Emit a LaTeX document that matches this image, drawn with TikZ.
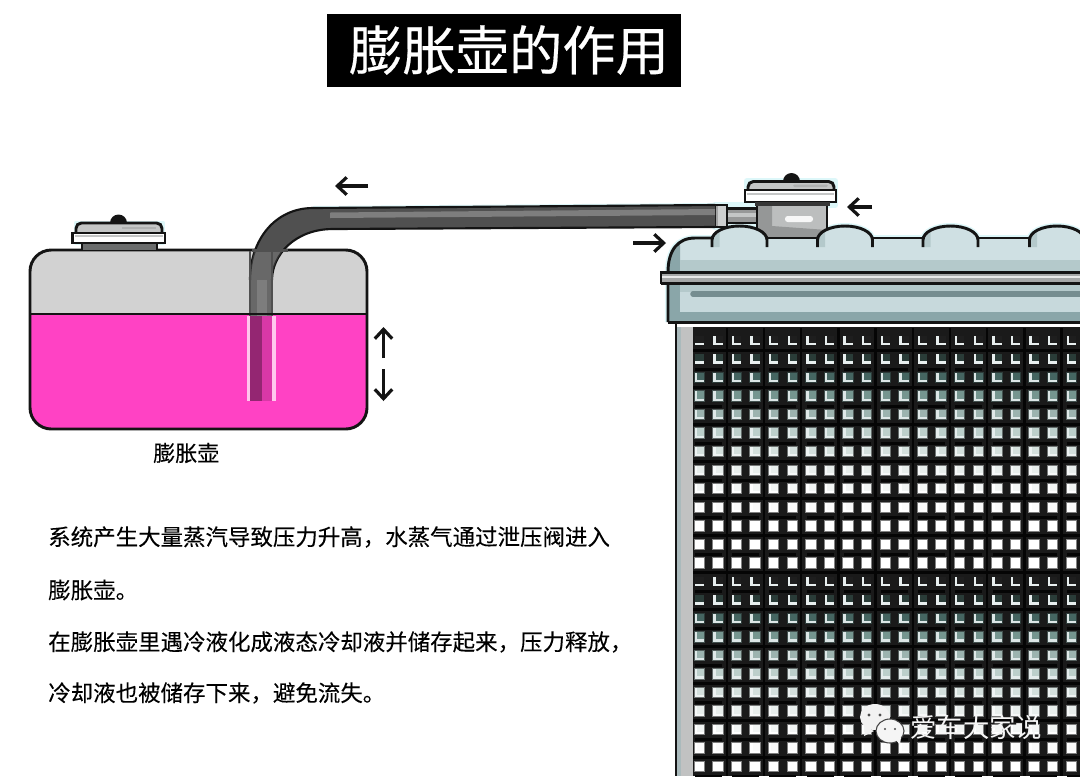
\documentclass[tikz,border=0pt]{standalone}
\usepackage{fontspec}
\setmainfont{Noto Sans CJK SC}
\newfontfamily\titlefont[FakeBold=0.35]{Noto Sans CJK SC}
\newfontfamily\bodyfont[FakeBold=0.15]{Noto Sans CJK SC}
\newcommand{\pxfont}[1]{\fontsize{#1}{#1}\selectfont}
\usetikzlibrary{arrows.meta}
\definecolor{glow}{HTML}{DDF7F9}
\definecolor{tankgray}{HTML}{D2D2D2}
\definecolor{liquid}{HTML}{FF42C4}
\definecolor{inkk}{HTML}{141414}
\definecolor{capgray}{HTML}{C4C6C6}
\definecolor{capdark}{HTML}{6A6C6C}
\definecolor{rlight}{HTML}{CFE0E3}
\definecolor{rmid}{HTML}{B4C9CB}
\definecolor{rdark}{HTML}{8AA6A9}
\definecolor{barg}{HTML}{A6A8A8}
\definecolor{corebg}{HTML}{1A1A1A}
\definecolor{coreline}{HTML}{050505}
\definecolor{pipebody}{HTML}{505050}
\definecolor{pipeband}{HTML}{7E7E7E}
\tikzset{
  ink/.style={draw=inkk,line width=2.2pt},
  thin ink/.style={draw=inkk,line width=1.6pt},
  halo/.style={draw=glow,line width=4.5pt,line join=round},
  flow/.style={draw=inkk,line width=2.4pt,-{Straight Barb[length=7pt,width=13pt,line width=2.4pt]}},
  label/.style={inner sep=0pt,anchor=west,text=black},
}
\def\pipepath{(715,205) -- (313,208) .. controls (275,208) and (250,240) .. (250,280) -- (250,316) -- (272,316) -- (272,280) .. controls (272,255) and (295,229) .. (333,229) -- (715,227) -- cycle}
\def\bumppath#1{(#1-27.5,247) -- (#1-27.5,240) .. controls (#1-27.5,232) and (#1-15,226) .. (#1,226) .. controls (#1+15,226) and (#1+27.5,232) .. (#1+27.5,240) -- (#1+27.5,247)}
\begin{document}
\begin{tikzpicture}[x=0.75pt,y=-0.75pt]
\useasboundingbox (0,0) rectangle (1080,776);
\clip (0,0) rectangle (1080,776);
\fill[white] (0,0) rectangle (1080,776);

% title
\fill[black] (327,14) rectangle (681,87);
\node[inner sep=0pt,text=white] (title) at (509,50) {\titlefont\pxfont{40}膨胀壶的作用};

% ---------- halos
\draw[halo] (668,322) -- (668,272) .. controls (668,250) and (678,238) .. (695,238) -- (1080,238);
\draw[halo] (747,181) rectangle (835,205);
\draw[halo] (715,205) rectangle (757,227);
\foreach \cx in {845,950.5,1057}{\draw[halo] \bumppath{\cx};}
\draw[halo,line width=3.5pt] (76,223) rectangle (163,243);
\draw[glow,line width=3pt] (715,205) -- (313,208);

% ---------- radiator side and core
\fill[barg!70!white] (676,322) rectangle (694,776);
\fill[rmid!80!gray] (676,322) rectangle (681,776);
\draw[thin ink] (676,322) -- (676,776);
\fill[corebg] (693,327) rectangle (1080,776);
\fill[white] (677,324) rectangle (1080,326.5);

% core bars
\foreach \i in {0,...,10}{\fill[coreline] ({725.5+(\i*37.2)},328) rectangle ({728+(\i*37.2)},776);}
\foreach \r in {0,...,11}{
  \fill[coreline] (693,{348.5+\r*37}) rectangle (1080,{352+\r*37});
  \foreach \i in {0,...,10}{\fill[coreline] ({695+(\i*37.2)},{368+\r*37}) rectangle ({722+(\i*37.2)},{370.5+\r*37});}
}

% core windows: a 13-row period, dark and hollow at the top of each panel, white at the bottom
\foreach \p/\last in {0/12,1/10}{
 \foreach \k/\cola/\colb in {
   0/1E1E1E/E8EFEF,1/2A3C38/E8EFEF,2/456561/DCE6E6,3/75958F/DCE6E6,
   4/9CB3AF/DFE8E8,5/BCCFCB/E4ECEC,6/D4E0DD/EEF3F3,7/E8EEEC/F6F8F8,
   8/F2F5F4/FFFFFF,9/FAFAFA/FFFFFF,10/FFFFFF/FFFFFF,11/FFFFFF/FFFFFF,12/FFFFFF/FFFFFF}{
  \ifnum\k>\last\relax\else
  \pgfmathsetmacro{\ypos}{340.5+18.53*(\k+13*\p)}
  \definecolor{wfill}{HTML}{\cola}\definecolor{wedge}{HTML}{\colb}
  \foreach \c in {0,...,20}{
   \pgfmathsetmacro{\xpos}{699.3+18.6*\c}
   \ifnum\k>1 \fill[wfill!45!corebg] (\xpos-5.7,\ypos-5.7) rectangle (\xpos+5.7,\ypos+5.7);\fi
   \fill[wfill] (\xpos-4.7,\ypos-4.7) rectangle (\xpos+4.7,\ypos+4.7);
   \ifnum\c=0 \ifnum\k<2 \else \fill[wedge] (\xpos-4.7,\ypos-4.7) rectangle (\xpos-2.4,\ypos+4.7);\fi
   \else \fill[wedge] (\xpos-4.7,\ypos-4.7) rectangle (\xpos-2.4,\ypos+4.7);\fi
   \fill[wedge] (\xpos-4.7,\ypos+2.4) rectangle (\xpos+4.7,\ypos+4.7);
  }
  \fi
 }
}

% ---------- radiator top tank
\fill[rlight] (668,322) -- (668,272) .. controls (668,250) and (678,238) .. (695,238) -- (1080,238) -- (1080,322) -- cycle;
\fill[rdark] (668,322) -- (668,272) .. controls (668,258) and (672,248) .. (680,243) -- (680,322) -- cycle;
\fill[rmid] (680,260) rectangle (1080,272);
\fill[rmid] (680,284) rectangle (1080,292);
\fill[rlight!70!rmid] (680,292) rectangle (1080,312);
\fill[rdark] (668,312) rectangle (1080,322);
\draw[rdark!85!black,line width=4.2pt,line cap=round] (693,294) -- (1080,294);
% neck
\fill[barg!75!white] (757,200) rectangle (827,238);
\fill[barg!90!black] (757,200) -- (772,200) -- (772,226) -- (827,230) -- (827,238) -- (757,238) -- cycle;
\fill[white!94!gray,rounded corners=2pt] (785,216) rectangle (813,222);
\draw[ink] (757,205) -- (757,238);
\draw[ink] (827,205) -- (827,238);
% bumps
\foreach \cx in {739.5,845,950.5,1057}{
  \fill[rlight] \bumppath{\cx} -- cycle;
  \fill[rmid] (\cx-27,247) -- (\cx-27,238) -- (\cx-20,232) -- (\cx-20,247) -- cycle;
  \draw[ink] \bumppath{\cx};
}
\draw[ink] (668,322) -- (668,272) .. controls (668,250) and (678,238) .. (695,238) -- (712,238);
\draw[ink] (767,238) -- (818,238);
\draw[ink] (872.5,238) -- (923,238);
\draw[ink] (978,238) -- (1029.5,238);
\draw[ink] (668,322.5) -- (1080,322.5);
% bar
\fill[barg] (661,272) rectangle (1080,283);
\fill[white!75!barg] (661,276) rectangle (1080,278);
\draw[ink] (661,283.5) -- (661,272.5) -- (1080,272.5);
\draw[ink] (661,283.5) -- (1080,283.5);

% ---------- radiator cap
\fill[inkk] (791.5,181.5) circle[radius=8.5];
\fill[capgray,rounded corners=4pt] (748,195) -- (748,181) -- (834,181) -- (834,195) -- cycle;
\fill[capgray!70!gray,rounded corners=1pt] (793,184.5) rectangle (828,187);
\draw[ink,rounded corners=4pt] (748,195) -- (748,181.5) -- (834,181.5) -- (834,195);
\fill[white] (745,190) rectangle (836,202);
\fill[capgray] (747,192.5) rectangle (834,194.5);
\draw[ink] (745,190) rectangle (836,202);
\fill[inkk!85!white] (755,202) rectangle (830,206);
% spigot
\fill[capdark!70!white] (727,209) rectangle (757,223);
\fill[capgray] (727,213) rectangle (757,217);
\draw[thin ink] (727,208.5) rectangle (757,223);
\fill[capgray!85!white] (715,205) rectangle (727,227);
\fill[capgray!50!gray] (715,205) rectangle (718,227);
\draw[thin ink] (715,205) rectangle (727,227);

% ---------- tank
\begin{scope}
\clip[rounded corners=16pt] (30,250) rectangle (367,429);
\fill[tankgray] (30,250) rectangle (367,314);
\fill[liquid] (30,314) rectangle (367,429);
\end{scope}
\draw[ink,rounded corners=16pt] (30,250) rectangle (367,429);

% tank cap
\fill[inkk] (118.5,223) circle[radius=8.5];
\fill[capdark] (82,242) rectangle (157,250);
\fill[capgray,rounded corners=4pt] (76,236) -- (76,223) -- (162,223) -- (162,236) -- cycle;
\fill[capgray!70!gray] (122,226.5) rectangle (156,228.5);
\draw[ink,rounded corners=4pt] (76,236) -- (76,223) -- (162,223) -- (162,236);
\fill[white] (72.5,233) rectangle (165,243);
\fill[capgray] (75,235) rectangle (163,237);
\draw[ink] (72.5,233) rectangle (165,243);
\draw[thin ink] (82,243) -- (82,250);
\draw[thin ink] (157,243) -- (157,250);

% ---------- pipe
\fill[white!70!liquid] (247,316) rectangle (275.5,401);
\fill[pipebody] \pipepath;
\fill[pipeband] (330,212.5) -- (715,209) -- (715,215) -- (330,218) -- cycle;
\draw[thin ink] (715,205) -- (313,208) .. controls (275,208) and (250,240) .. (250,280);
\draw[thin ink] (272,280) .. controls (272,255) and (295,229) .. (333,229) -- (715,227);
\begin{scope}
\clip (200,251) rectangle (300,316);
\fill[white,opacity=.14] \pipepath;
\draw[pipebody,line width=1.8pt] (250,250) -- (250,316) (272,250) -- (272,316);
\fill[white,opacity=.14] (257,280) rectangle (267,316);
\end{scope}
\draw[pipebody,line width=1.6pt] (252,250.5) -- (288,250.5);
\fill[black!42!liquid] (250,316) rectangle (262,401);
\fill[black!15!liquid] (262,316) rectangle (272,401);
\draw[ink] (30,314) -- (367,314);

% ---------- flow arrows
\coordinate (a1s) at (368,186); \coordinate (a1e) at (335,186);
\coordinate (a2s) at (872,207); \coordinate (a2e) at (847,207);
\coordinate (a3s) at (633,243); \coordinate (a3e) at (666,243);
\coordinate (a4s) at (383.5,358); \coordinate (a4e) at (383.5,327);
\coordinate (a5s) at (383.5,369); \coordinate (a5e) at (383.5,401);
\draw[flow] (a1s) -- (a1e);
\draw[flow] (a2s) -- (a2e);
\draw[flow] (a3s) -- (a3e);
\draw[flow] (a4s) -- (a4e);
\draw[flow] (a5s) -- (a5e);

% ---------- texts
\node[label] (cap) at (153,453) {\bodyfont\pxfont{16.5}膨胀壶};
\node[label] (t1) at (48,537) {\bodyfont\pxfont{16.85}系统产生大量蒸汽导致压力升高，水蒸气通过泄压阀进入};
\node[label] (t2) at (48,590) {\bodyfont\pxfont{16.85}膨胀壶。};
\node[label] (t3) at (48,642) {\bodyfont\pxfont{16.85}在膨胀壶里遇冷液化成液态冷却液并储存起来，压力释放，};
\node[label] (t4) at (48,693) {\bodyfont\pxfont{16.85}冷却液也被储存下来，避免流失。};

% ---------- watermark
\fill[white!90!gray] (875,717) ellipse[x radius=15,y radius=13];
\fill[white!90!gray] (866,727) -- (864,736) -- (874,731) -- cycle;
\draw[corebg!60!gray,line width=0.8pt,fill=white!92!gray] (890,731) ellipse[x radius=14,y radius=12];
\fill[white!92!gray] (896,740) -- (900,745) -- (901,737) -- cycle;
\fill[black!70] (869,715) circle[radius=1.6] (880,715) circle[radius=1.6] (885,729) circle[radius=1.2] (895,729) circle[radius=1.2];
\node[label,text=white!92!gray] (wm) at (910,727) {\pxfont{19.8}爱车大家说};
\end{tikzpicture}
\end{document}
